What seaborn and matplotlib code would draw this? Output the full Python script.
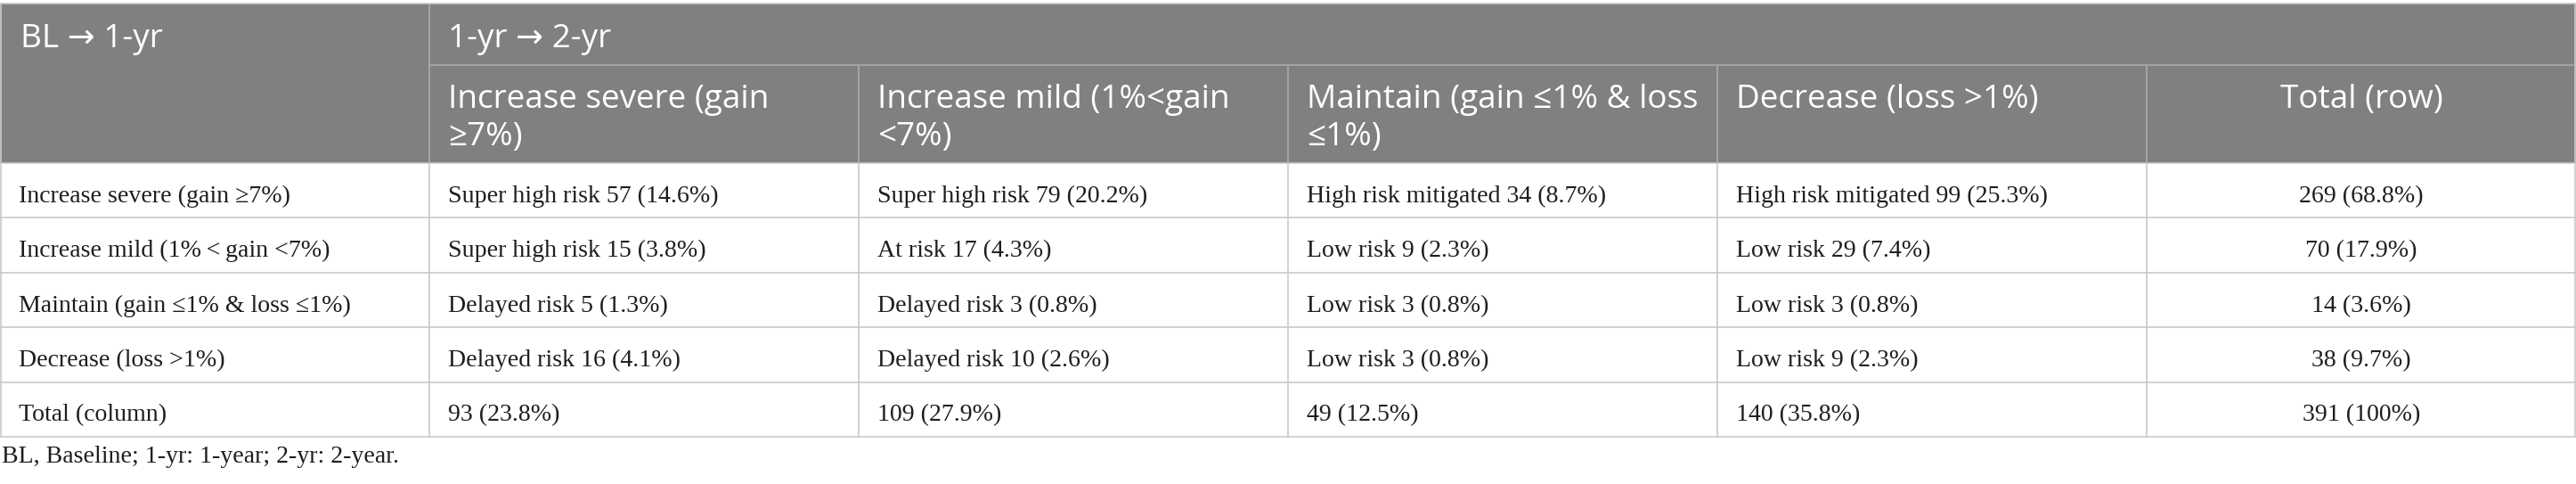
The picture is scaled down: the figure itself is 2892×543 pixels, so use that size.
import matplotlib
matplotlib.use("Agg")
import matplotlib.pyplot as plt
from matplotlib.patches import Rectangle
import numpy as np
import pandas as pd
import seaborn as sns

# ---------------- data ----------------
corner_label = "BL \u2192 1-yr"
group_label = "1-yr \u2192 2-yr"
row_labels = [
    "Increase severe (gain \u22657%)",
    "Increase mild (1%\u2009<\u2009gain <7%)",
    "Maintain (gain \u22641% & loss \u22641%)",
    "Decrease (loss >1%)",
]
total_col_label = "Total (column)"
col_headers = [
    ["Increase severe (gain", "\u22657%)"],
    ["Increase mild (1%<gain", "<7%)"],
    ["Maintain (gain \u22641% & loss", "\u22641%)"],
    ["Decrease (loss >1%)"],
]
total_row_label = "Total (row)"
risk_labels = [
    ["Super high risk", "Super high risk", "High risk mitigated", "High risk mitigated"],
    ["Super high risk", "At risk", "Low risk", "Low risk"],
    ["Delayed risk", "Delayed risk", "Low risk", "Low risk"],
    ["Delayed risk", "Delayed risk", "Low risk", "Low risk"],
]
counts = [
    [57, 79, 34, 99],
    [15, 17, 9, 29],
    [5, 3, 3, 3],
    [16, 10, 3, 9],
]
percents = [
    [14.6, 20.2, 8.7, 25.3],
    [3.8, 4.3, 2.3, 7.4],
    [1.3, 0.8, 0.8, 0.8],
    [4.1, 2.6, 0.8, 2.3],
]
row_totals = [269, 70, 14, 38]
row_total_pcts = [68.8, 17.9, 3.6, 9.7]
col_totals = [93, 109, 49, 140]
col_total_pcts = [23.8, 27.9, 12.5, 35.8]
grand_total = 391
grand_total_pct = "100%"
footnote = "BL, Baseline; 1-yr: 1-year; 2-yr: 2-year."

# ---------------- style ----------------
sns.set_theme(style="white")
HEAD_FONT = ["Open Sans", "DejaVu Sans"]
BODY_FONT = ["Liberation Serif", "DejaVu Serif"]
HEAD_BG = "#808080"
HEAD_LINE = "#a9a9a9"
GRID = "#c9c9c9"
TXT = "#1e1e1e"

W, H = 2892, 543
fig = plt.figure(figsize=(W / 100, H / 100), dpi=100)
ax = fig.add_axes([0, 0, 1, 1])
ax.set_xlim(0, W)
ax.set_ylim(H, 0)
ax.axis("off")
fig.canvas.draw()
renderer = fig.canvas.get_renderer()


def fit_size(samples, family, base=20.0):
    sizes = []
    for text, target in samples:
        t = ax.text(0, 100, text, fontsize=base, family=family)
        w = t.get_window_extent(renderer=renderer).width
        t.remove()
        sizes.append(base * target / w)
    return float(np.mean(sizes))


HEAD_SIZE = fit_size([("Increase severe (gain", 360), ("Total (row)", 182)], HEAD_FONT)
BODY_SIZE = fit_size([("Super high risk 57 (14.6%)", 307), ("269 (68.8%)", 138)], BODY_FONT)

ncols = 6
col_w = W / ncols
x_edges = [i * col_w for i in range(ncols + 1)]
top, mid, head_bot = 4, 73, 183
nrows = len(row_labels) + 1
row_h = (490 - head_bot) / nrows
y_edges = [head_bot + i * row_h for i in range(nrows + 1)]
pad = 21
lw = 1.2

# header background
ax.add_patch(Rectangle((0, top), W, head_bot - top, facecolor=HEAD_BG, edgecolor="none", zorder=1))
# header lines
ax.plot([x_edges[1], W], [mid, mid], color=HEAD_LINE, lw=lw, zorder=2)
ax.plot([x_edges[1], x_edges[1]], [top, head_bot], color=HEAD_LINE, lw=lw, zorder=2)
for x in x_edges[2:-1]:
    ax.plot([x, x], [mid, head_bot], color=HEAD_LINE, lw=lw, zorder=2)
ax.plot([0, W], [top, top], color=GRID, lw=lw, zorder=3)

# body grid
for y in y_edges:
    ax.plot([0, W], [y, y], color=GRID, lw=lw, zorder=2)
for x in x_edges:
    xx = min(max(x, 0.8), W - 0.8)
    ax.plot([xx, xx], [head_bot, y_edges[-1]], color=GRID, lw=lw, zorder=2)
for xx in (0.8, W - 0.8):
    ax.plot([xx, xx], [top, head_bot], color=GRID, lw=lw, zorder=2)

# header text
ax.text(pad + 2, 53, corner_label, fontsize=HEAD_SIZE, family=HEAD_FONT, color="white",
        ha="left", va="baseline", zorder=4)
ax.text(x_edges[1] + pad, 53, group_label, fontsize=HEAD_SIZE, family=HEAD_FONT, color="white",
        ha="left", va="baseline", zorder=4)
head_baselines = [121, 163]
for j, lines in enumerate(col_headers):
    for k, line in enumerate(lines):
        ax.text(x_edges[j + 1] + pad, head_baselines[k], line, fontsize=HEAD_SIZE, family=HEAD_FONT,
                color="white", ha="left", va="baseline", zorder=4)
ax.text((x_edges[5] + x_edges[6]) / 2, head_baselines[0], total_row_label, fontsize=HEAD_SIZE,
        family=HEAD_FONT, color="white", ha="center", va="baseline", zorder=4)

# body text
base_off = 44
for i, lab in enumerate(row_labels):
    yb = y_edges[i] + base_off
    ax.text(pad, yb, lab, fontsize=BODY_SIZE, family=BODY_FONT, color=TXT, ha="left", va="baseline")
    for j in range(len(col_headers)):
        s = f"{risk_labels[i][j]} {counts[i][j]} ({percents[i][j]:.1f}%)"
        ax.text(x_edges[j + 1] + pad, yb, s, fontsize=BODY_SIZE, family=BODY_FONT, color=TXT,
                ha="left", va="baseline")
    ax.text((x_edges[5] + x_edges[6]) / 2, yb, f"{row_totals[i]} ({row_total_pcts[i]:.1f}%)",
            fontsize=BODY_SIZE, family=BODY_FONT, color=TXT, ha="center", va="baseline")

yb = y_edges[-2] + base_off
ax.text(pad, yb, total_col_label, fontsize=BODY_SIZE, family=BODY_FONT, color=TXT, ha="left", va="baseline")
for j in range(len(col_totals)):
    ax.text(x_edges[j + 1] + pad, yb, f"{col_totals[j]} ({col_total_pcts[j]:.1f}%)",
            fontsize=BODY_SIZE, family=BODY_FONT, color=TXT, ha="left", va="baseline")
ax.text((x_edges[5] + x_edges[6]) / 2, yb, f"{grand_total} ({grand_total_pct})",
        fontsize=BODY_SIZE, family=BODY_FONT, color=TXT, ha="center", va="baseline")

# footnote
ax.text(2, 519, footnote, fontsize=BODY_SIZE, family=BODY_FONT, color=TXT, ha="left", va="baseline")

fig.savefig("out.png", dpi=100)
